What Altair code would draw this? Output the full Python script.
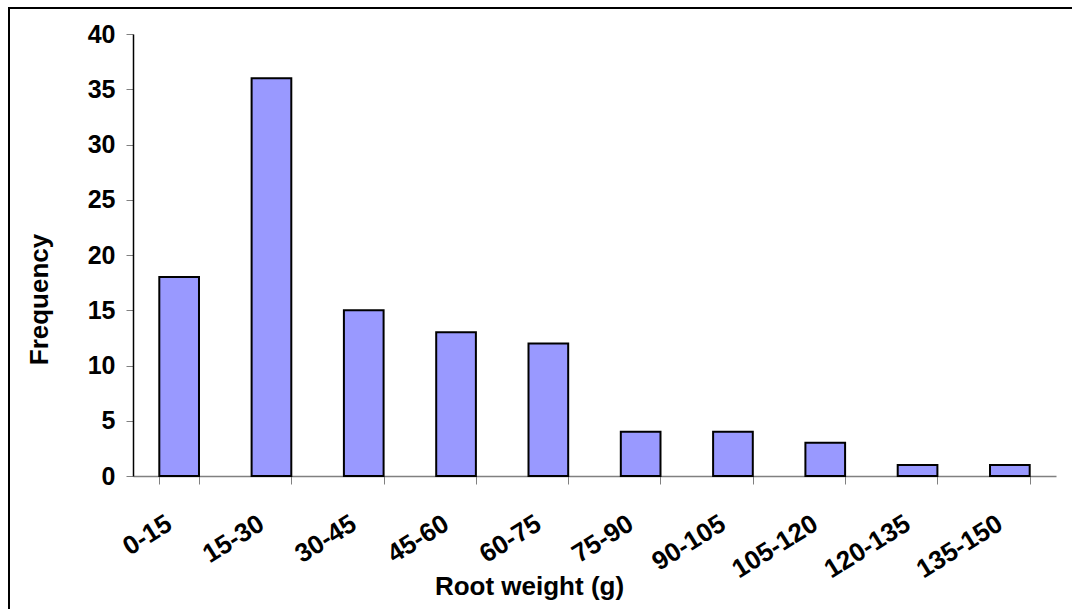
import altair as alt
import pandas as pd

categories = ["0-15", "15-30", "30-45", "45-60", "60-75", "75-90",
              "90-105", "105-120", "120-135", "135-150"]
frequency = [18, 36, 15, 13, 12, 4, 4, 3, 1, 1]

df = pd.DataFrame({"bin": categories, "freq": frequency})

W, H = 923, 442
FONT = "Liberation Sans"

bars = alt.Chart(df).mark_bar(
    color="#9999FF", stroke="#000000", strokeWidth=2
).encode(
    x=alt.X("bin:N", sort=categories,
            scale=alt.Scale(paddingInner=0.57, paddingOuter=0.285),
            axis=alt.Axis(title="Root weight (g)", labelAngle=-32,
                          labelAlign="right", labelBaseline="top",
                          labelPadding=26, labelOffset=-17,
                          tickBand="extent", tickSize=8, tickColor="#808080",
                          domainColor="#808080", domainWidth=1.5,
                          labelFont=FONT, labelFontSize=26, labelFontWeight="bold",
                          labelColor="#000000",
                          titleFont=FONT, titleFontSize=26, titleFontWeight="bold",
                          titleColor="#000000", titleX=396, titleY=110,
                          titleBaseline="middle", titleAnchor="middle",
                          titleAlign="center")),
    y=alt.Y("freq:Q", scale=alt.Scale(domain=[0, 40], nice=False),
            axis=alt.Axis(title="Frequency", values=list(range(0, 41, 5)),
                          grid=False, tickSize=7, tickColor="#808080",
                          domainColor="#000000", domainWidth=1.5,
                          labelPadding=11,
                          labelFont=FONT, labelFontSize=25, labelFontWeight="bold",
                          labelColor="#000000",
                          titleFont=FONT, titleFontSize=26, titleFontWeight="bold",
                          titleColor="#000000", titleX=-94, titleY=265,
                          titleBaseline="middle", titleAngle=-90,
                          titleAlign="center")),
)

frame = alt.Chart(df).mark_rect(
    fill=None, stroke="#000000", strokeWidth=1.5, clip=False
).encode(
    x=alt.value(-124), x2=alt.value(W + 60),
    y=alt.value(-26), y2=alt.value(H + 200),
)

chart = alt.layer(frame, bars).properties(
    width=W, height=H,
    autosize=alt.AutoSizeParams(type="none"),
    padding={"left": 133, "top": 34, "right": 16, "bottom": 133},
    background="#ffffff",
).configure_view(stroke=None)

chart.save("out.html", embed_options={"renderer": "svg", "actions": False})
